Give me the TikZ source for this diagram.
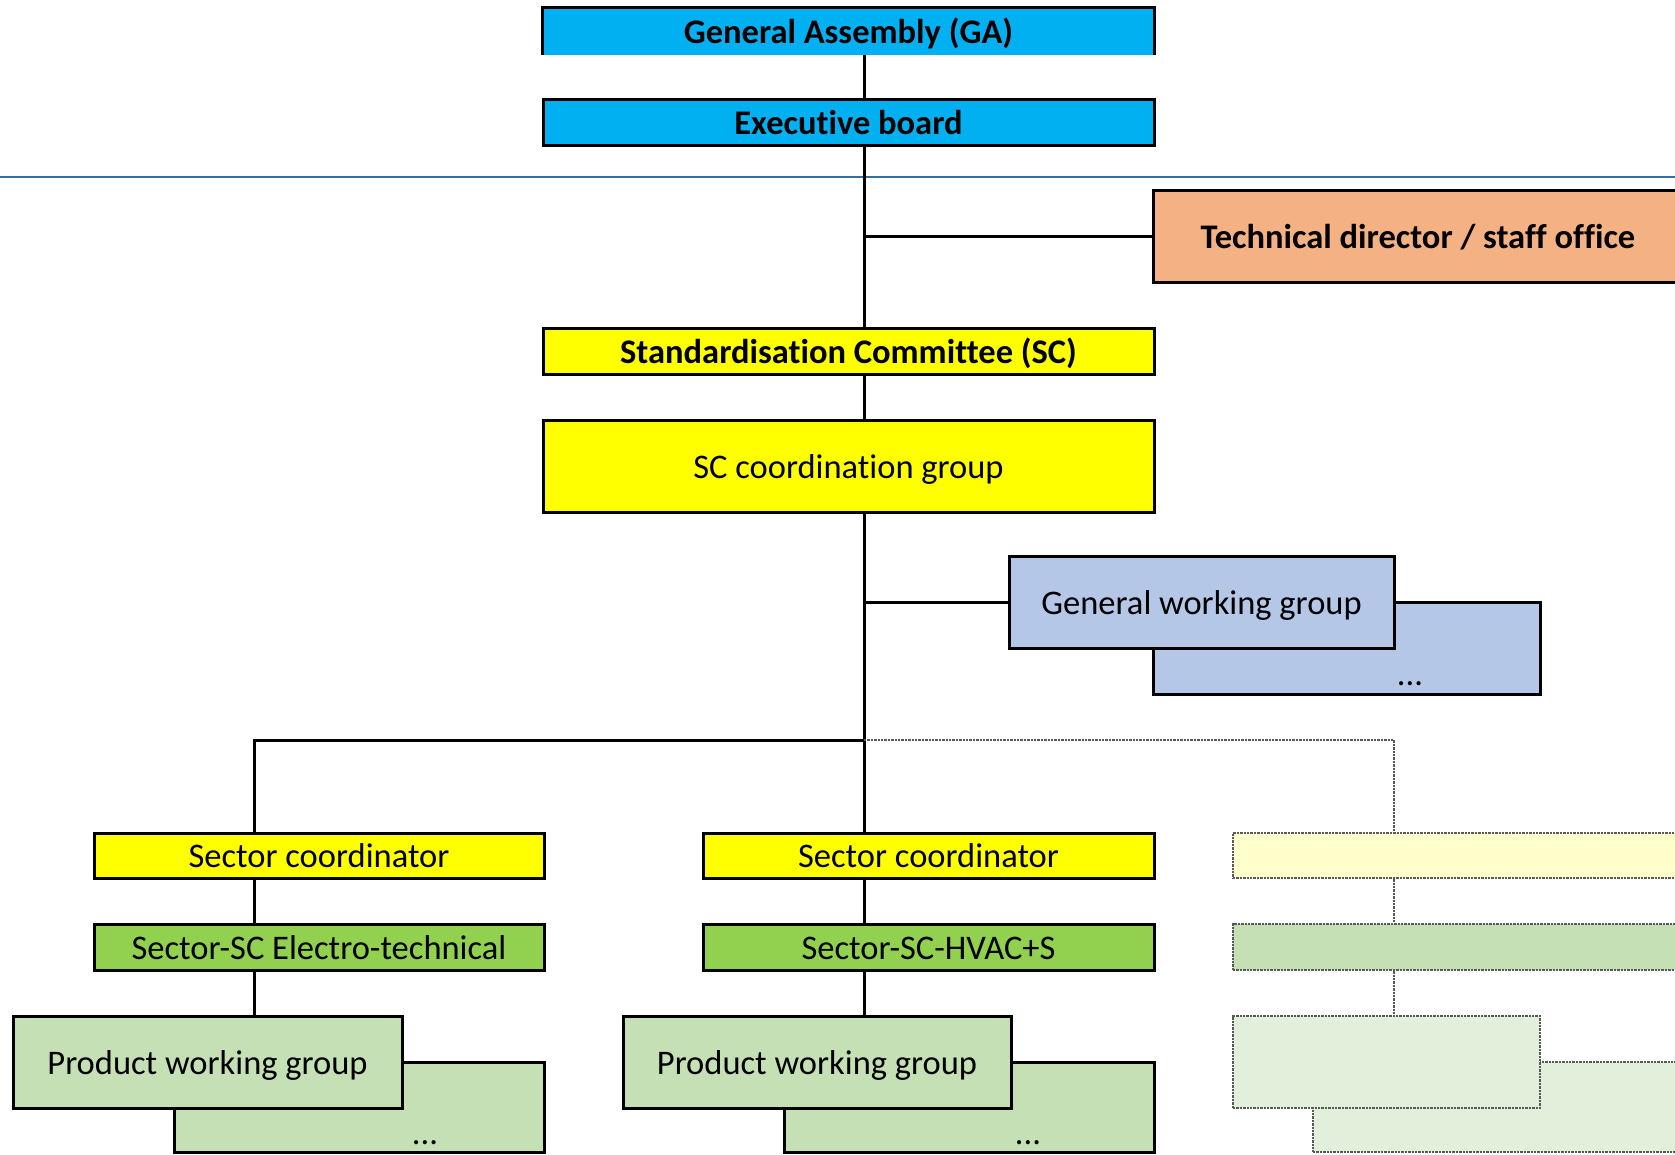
\documentclass[tikz,border=0pt]{standalone}
\usepackage{fontspec}
\setmainfont[Ligatures=NoCommon]{Carlito}
\definecolor{gablue}{HTML}{00B0F0}
\definecolor{tdorange}{HTML}{F4B183}
\definecolor{scyellow}{HTML}{FFFF00}
\definecolor{gwgblue}{HTML}{B4C7E7}
\definecolor{secgreen}{HTML}{92D050}
\definecolor{pwggreen}{HTML}{C5E0B4}
\definecolor{paleyellow}{HTML}{FFFFCC}
\definecolor{palegreen}{HTML}{E2EFDA}
\definecolor{sepblue}{RGB}{49,112,160}
\tikzset{
  txt/.style={font=\fontsize{34.5}{40}\selectfont},
  box/.style={draw=black, line width=3pt, rectangle, inner sep=0pt, txt, text height=26pt, text depth=2pt},
  boldbox/.style={box, font=\fontsize{34.5}{40}\selectfont\bfseries},
  ghost/.style={draw=gray!70!black, line width=2.4pt, densely dotted, rectangle, inner sep=0pt},
  conn/.style={line width=3pt, draw=black},
  ghostconn/.style={line width=2.4pt, draw=gray!70!black, densely dotted},
  dots/.style={inner sep=0pt, txt}
}
\begin{document}
\begin{tikzpicture}[x=1pt,y=-1pt]
\useasboundingbox (0,0) rectangle (1675,1154);
% column coordinates
\coordinate (t) at (864,0);
\coordinate (lc) at (254,0);
\coordinate (rc) at (1394,0);

% separator line
\coordinate (sepL) at (0,177);
\coordinate (sepR) at (1675,177);
\draw[sepblue, line width=1.4pt] (sepL) -- (sepR);

% top nodes
\node[fill=gablue, minimum width=611pt, minimum height=47pt, inner sep=0pt, text height=26pt, text depth=2pt, font=\fontsize{34.5}{40}\selectfont\bfseries] (ga) at (848.5,31) {General Assembly (GA)};
\draw[line width=3pt] (ga.south west) -- (ga.north west) -- (ga.north east) -- (ga.south east);
\node[boldbox, fill=gablue, minimum width=611pt, minimum height=46pt] (eb) at (848.5,122) {Executive board};
\node[boldbox, fill=tdorange, minimum width=530pt, minimum height=92pt] (td) at (1418,236) {Technical director / staff office};
\node[boldbox, fill=scyellow, minimum width=611pt, minimum height=46pt] (sc) at (848.5,351) {Standardisation Committee (SC)};
\node[box, fill=scyellow, minimum width=611pt, minimum height=92pt] (scg) at (848.5,466) {SC coordination group};

% general working group
\node[box, fill=gwgblue, minimum width=387pt, minimum height=92pt] (gwgb) at (1346.5,648) {};
\node[dots] (gwgdots) at (1410,684) {...};
\node[box, fill=gwgblue, minimum width=385pt, minimum height=92pt] (gwg) at (1201.5,602) {General working group};

% left column
\node[box, fill=scyellow, minimum width=450pt, minimum height=45pt] (sc1) at (319,855.5) {Sector coordinator};
\node[box, fill=secgreen, minimum width=450pt, minimum height=46pt] (ss1) at (319,947) {Sector-SC Electro-technical};
\node[box, fill=pwggreen, minimum width=370pt, minimum height=90pt] (pb1) at (359,1107) {};
\node[dots] (pd1) at (425,1143) {...};
\node[box, fill=pwggreen, minimum width=389pt, minimum height=92pt] (pw1) at (207.5,1062) {Product working group};

% middle column
\node[box, fill=scyellow, minimum width=451pt, minimum height=45pt] (sc2) at (928.5,855.5) {Sector coordinator};
\node[box, fill=secgreen, minimum width=451pt, minimum height=46pt] (ss2) at (928.5,947) {Sector-SC-HVAC+S};
\node[box, fill=pwggreen, minimum width=370pt, minimum height=90pt] (pb2) at (969,1107) {};
\node[dots] (pd2) at (1028,1143) {...};
\node[box, fill=pwggreen, minimum width=388pt, minimum height=92pt] (pw2) at (817,1062) {Product working group};

% right (placeholder) column
\node[ghost, fill=paleyellow, minimum width=460pt, minimum height=45pt] (sc3) at (1463,855.5) {};
\node[ghost, fill=pwggreen, minimum width=460pt, minimum height=46pt] (ss3) at (1463,947) {};
\node[ghost, fill=palegreen, minimum width=380pt, minimum height=90pt] (pb3) at (1503,1107) {};
\node[ghost, fill=palegreen, minimum width=307pt, minimum height=92pt] (pw3) at (1386.5,1062) {};

% bus
\coordinate (busL) at (254,740);
\coordinate (busM) at (864,740);
\coordinate (busR) at (1394,740);

% trunk connectors
\draw[conn] (ga.south -| t) -- (eb.north -| t);
\draw[conn] (eb.south -| t) -- (sc.north -| t);
\draw[conn] (td.west -| t) -- (td.west);
\draw[conn] (sc.south -| t) -- (scg.north -| t);
\draw[conn] (scg.south -| t) -- (sc2.north -| t);
\draw[conn] (gwg.west -| t) -- (gwg.west);
\draw[conn] (busM) -- (busL) -- (sc1.north -| lc);
\draw[conn] (sc1.south -| lc) -- (ss1.north -| lc);
\draw[conn] (ss1.south -| lc) -- (pw1.north -| lc);
\draw[conn] (sc2.south -| t) -- (ss2.north -| t);
\draw[conn] (ss2.south -| t) -- (pw2.north -| t);
\draw[ghostconn] (busM) -- (busR) -- (sc3.north -| rc);
\draw[ghostconn] (sc3.south -| rc) -- (ss3.north -| rc);
\draw[ghostconn] (ss3.south -| rc) -- (pw3.north -| rc);
\end{tikzpicture}
\end{document}
